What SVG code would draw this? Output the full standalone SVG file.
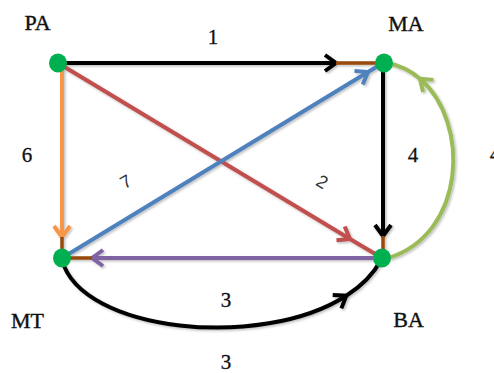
<svg xmlns="http://www.w3.org/2000/svg" width="494" height="373" viewBox="0 0 494 373">
<style>
.e{fill:none;stroke-width:4;stroke-linecap:butt}
.br{fill:none;stroke:#984807;stroke-width:3.5}
.node{fill:#00b050}
.lbl{font-family:"Liberation Serif","Times New Roman",serif;font-size:22px;fill:#111;stroke:#111;stroke-width:0.4;text-anchor:middle}
.num{font-family:"Liberation Serif","Times New Roman",serif;font-size:21px;fill:#111;stroke:#111;stroke-width:0.3;text-anchor:middle}
.sl{font-family:"Liberation Sans",Arial,sans-serif;font-size:18px;fill:#333;text-anchor:middle}
</style>
<defs>
<filter id="sh" x="-10%" y="-10%" width="120%" height="120%">
<feDropShadow dx="1.5" dy="1.5" stdDeviation="1" flood-color="#000" flood-opacity="0.25"/>
</filter>
<marker id="ak" markerUnits="userSpaceOnUse" markerWidth="30" markerHeight="30" refX="0" refY="0" viewBox="-15 -15 30 30" orient="auto" overflow="visible"><path d="M-11,-8 L0,0 L-11,8" fill="none" stroke="#000" stroke-width="4"/></marker>
<marker id="ar" markerUnits="userSpaceOnUse" markerWidth="30" markerHeight="30" refX="0" refY="0" viewBox="-15 -15 30 30" orient="auto" overflow="visible"><path d="M-11,-8 L0,0 L-11,8" fill="none" stroke="#c0504d" stroke-width="4"/></marker>
<marker id="ao" markerUnits="userSpaceOnUse" markerWidth="30" markerHeight="30" refX="0" refY="0" viewBox="-15 -15 30 30" orient="auto" overflow="visible"><path d="M-11,-8 L0,0 L-11,8" fill="none" stroke="#f79646" stroke-width="4"/></marker>
<marker id="ab" markerUnits="userSpaceOnUse" markerWidth="30" markerHeight="30" refX="0" refY="0" viewBox="-15 -15 30 30" orient="auto" overflow="visible"><path d="M-11,-8 L0,0 L-11,8" fill="none" stroke="#4f81bd" stroke-width="4"/></marker>
<marker id="ap" markerUnits="userSpaceOnUse" markerWidth="30" markerHeight="30" refX="0" refY="0" viewBox="-15 -15 30 30" orient="auto" overflow="visible"><path d="M-11,-8 L0,0 L-11,8" fill="none" stroke="#8064a2" stroke-width="4"/></marker>
<marker id="ag" markerUnits="userSpaceOnUse" markerWidth="30" markerHeight="30" refX="0" refY="0" viewBox="-15 -15 30 30" orient="auto" overflow="visible"><path d="M-11,-8 L0,0 L-11,8" fill="none" stroke="#9bbb59" stroke-width="4"/></marker>
</defs>
<g id="connectors" filter="url(#sh)">
<g id="e-pa-ma">
<path class="e" stroke="#000" d="M62,63 L336,63" marker-end="url(#ak)"/>
<path class="br" d="M336,63 L382,63"/>
</g>
<g id="e-pa-mt">
<path class="e" stroke="#f79646" d="M62,63 L62,237" marker-end="url(#ao)"/>
<path class="br" d="M62,237 L62,258"/>
</g>
<g id="e-ma-ba">
<path class="e" stroke="#000" d="M383,63 L383,236" marker-end="url(#ak)"/>
<path class="br" d="M383,236 L383,256"/>
</g>
<g id="e-ba-mt">
<path class="e" stroke="#8064a2" d="M382,258 L92,258" marker-end="url(#ap)"/>
<path class="br" d="M92,258 L62,258"/>
</g>
<g id="e-pa-ba">
<path class="e" stroke="#c0504d" d="M58,63 L350,239" marker-end="url(#ar)"/>
<path class="e" stroke="#c0504d" d="M350,239 L382,258"/>
</g>
<g id="e-mt-ma">
<path class="e" stroke="#4f81bd" d="M62,258 L368,72" marker-end="url(#ab)"/>
<path class="e" stroke="#4f81bd" d="M368,72 L383,63"/>
</g>
<g id="e-ba-ma">
<path class="e" stroke="#9bbb59" d="M388,258 C466.2,234.2 470.7,122.25 419.9,78.8" marker-end="url(#ag)"/>
<path class="e" stroke="#9bbb59" d="M419.9,78.8 C411,71.1 400.3,65.55 388,63"/>
</g>
<g id="e-mt-ba">
<path class="e" stroke="#000" d="M62,260 C81.55,332.25 261.5,350.3 346.3,295.7" marker-end="url(#ak)"/>
<path class="e" stroke="#000" d="M346.3,295.7 C361.3,286.1 373.35,274.25 381,260"/>
</g>
</g>
<g id="node-PA"><ellipse class="node" cx="58" cy="63" rx="9" ry="9.5"/><text class="lbl" x="37.5" y="30">PA</text></g>
<g id="node-MA"><ellipse class="node" cx="384" cy="63" rx="9" ry="9.5"/><text class="lbl" x="406" y="31">MA</text></g>
<g id="node-MT"><ellipse class="node" cx="62" cy="258" rx="9" ry="9.5"/><text class="lbl" x="27.5" y="328">MT</text></g>
<g id="node-BA"><ellipse class="node" cx="382" cy="258" rx="9" ry="9.5"/><text class="lbl" x="408.5" y="327">BA</text></g>
<g id="labels">
<text class="num" x="213" y="44">1</text>
<text class="num" x="27" y="162">6</text>
<text class="sl" transform="translate(129,187) rotate(-31)">7</text>
<text class="sl" transform="translate(319,187) rotate(31)">2</text>
<text class="num" x="413" y="162">4</text>
<text class="num" x="495" y="161">4</text>
<text class="num" x="226" y="307">3</text>
<text class="num" x="226" y="369">3</text>
</g>
</svg>
